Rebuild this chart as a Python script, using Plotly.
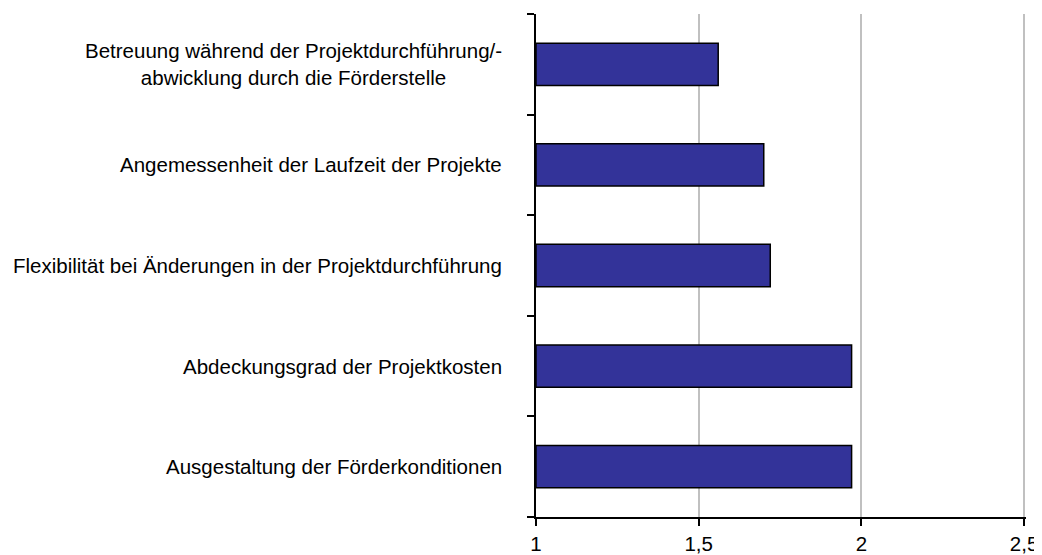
import plotly.graph_objects as go

categories = [
    "Betreuung während der Projektdurchführung/-<br>abwicklung durch die Förderstelle",
    "Angemessenheit der Laufzeit der Projekte",
    "Flexibilität bei Änderungen in der Projektdurchführung",
    "Abdeckungsgrad der Projektkosten",
    "Ausgestaltung der Förderkonditionen",
]
values = [1.56, 1.70, 1.72, 1.97, 1.97]
base_value = 1.0
x_ticks = [1, 1.5, 2, 2.5]

FONT = "Liberation Sans, Arial, sans-serif"

fig = go.Figure()
fig.add_trace(go.Bar(
    y=categories,
    x=[v - base_value for v in values],
    base=base_value,
    orientation="h",
    marker=dict(color="#333399", line=dict(color="#000000", width=1.5)),
    hoverinfo="skip",
))

annotations = []
for cat in categories:
    annotations.append(dict(
        x=0, xref="paper", y=cat, yref="y",
        text=cat, showarrow=False, xanchor="right", yanchor="middle",
        align="center", xshift=-32,
        font=dict(family=FONT, size=20.5, color="#000000"),
    ))

# page body has an 8px default margin, so the figure is sized to fit the window
fig.update_layout(
    width=1034, height=547,
    margin=dict(l=528, r=16, t=6, b=38),
    paper_bgcolor="white", plot_bgcolor="white",
    showlegend=False,
    bargap=0.58,
    separators=",.",
    font=dict(family=FONT, size=20.5, color="#000000"),
    annotations=annotations,
    xaxis=dict(
        range=[1, 2.506], tickvals=x_ticks, ticks="outside", ticklen=7,
        tickwidth=2, tickcolor="#000000",
        showline=True, linecolor="#000000", linewidth=2,
        showgrid=True, gridcolor="#c0c0c0", gridwidth=2,
        zeroline=False, automargin=False,
        tickfont=dict(family=FONT, size=20.5),
    ),
    yaxis=dict(
        categoryorder="array", categoryarray=categories[::-1],
        range=[-0.5, 4.5],
        showticklabels=False, ticks="outside", ticklen=7, tickwidth=2,
        tickcolor="#000000", tickson="boundaries",
        showline=True, linecolor="#000000", linewidth=2,
        showgrid=False, zeroline=False, automargin=False,
    ),
)

fig.write_html("out.html")
